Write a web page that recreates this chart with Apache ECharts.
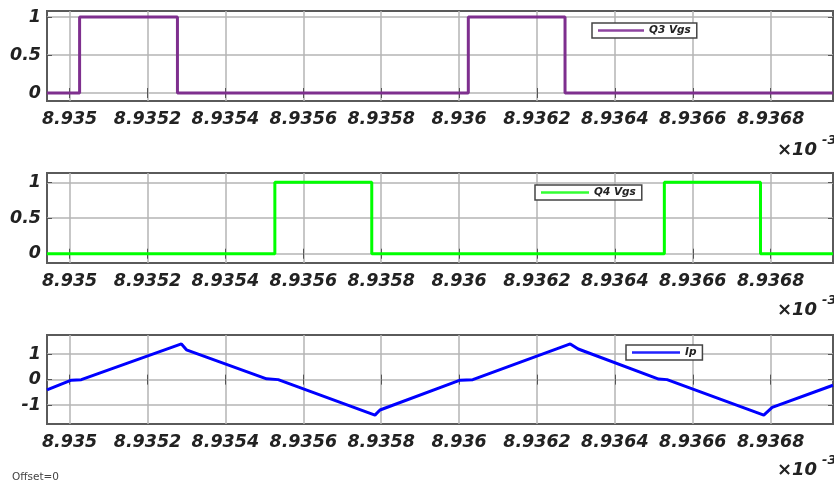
<!DOCTYPE html>
<html><head><meta charset="utf-8">
<script src="https://cdn.jsdelivr.net/npm/echarts@6/dist/echarts.min.js"></script>
<style>html,body{margin:0;padding:0;background:#fff}#c{width:834px;height:486px}</style>
</head><body><div id="c"></div>
<script>
// ---- data (time in units of 1e-3 s) ----
const xTicks = [8.935, 8.9352, 8.9354, 8.9356, 8.9358, 8.936, 8.9362, 8.9364, 8.9366, 8.9368];
const xMin = 8.934942, xMax = 8.93696;

const q3Time  = [8.934942, 8.9350257, 8.9350257, 8.9352769, 8.9352769, 8.9360237, 8.9360237, 8.936272, 8.936272, 8.93696];
const q3Value = [0, 0, 1, 1, 0, 0, 1, 1, 0, 0];

const q4Time  = [8.934942, 8.935527, 8.935527, 8.9357758, 8.9357758, 8.936527, 8.936527, 8.9367738, 8.9367738, 8.93696];
const q4Value = [0, 0, 1, 1, 0, 0, 1, 1, 0, 0];

const ipTime  = [8.934942, 8.9350044, 8.9350301, 8.9352871, 8.9353, 8.9355057, 8.9355355, 8.935784, 8.9357969,
                 8.9360026, 8.9360352, 8.9362854, 8.9363059, 8.9365124, 8.936534, 8.9367823, 8.9368039, 8.93696];
const ipValue = [-0.40, -0.02, 0.0, 1.40, 1.17, 0.03, 0.0, -1.39, -1.19,
                 -0.02, 0.0, 1.40, 1.20, 0.02, 0.0, -1.39, -1.09, -0.22];

const yTicks1 = [0, 0.5, 1];
const yTicks2 = [0, 0.5, 1];
const yTicks3 = [-1, 0, 1];
const yRanges = [[-0.105, 1.08], [-0.13, 1.13], [-1.74, 1.75]];

const zip = (a, b) => a.map((t, i) => [t, b[i]]);

// ---- styles ----
const FONT = 'DejaVu Sans';
const labelStyle = {fontFamily: FONT, fontWeight: 'bold', fontStyle: 'italic', fontSize: 17.5, color: '#222'};
const gridTops = [11, 173, 335];
const gridHeights = [90, 90, 89];
const yTickSets = [yTicks1, yTicks2, yTicks3];

const grids = gridTops.map((t, i) => ({
  left: 47, right: 1, top: t, height: gridHeights[i],
  show: true, borderColor: '#5a5a5a', borderWidth: 2, backgroundColor: '#fff'
}));

const xAxes = [];
const yAxes = [];
for (let i = 0; i < 3; i++) {
  xAxes.push({
    type: 'value', gridIndex: i, min: xMin, max: xMax, position: 'bottom',
    axisLine: {show: false},
    axisTick: {show: true, inside: true, length: 5, customValues: xTicks, lineStyle: {color: '#555', width: 1}},
    axisLabel: Object.assign({customValues: xTicks, margin: 9,
      formatter: v => String(Number(v.toFixed(4)))}, labelStyle),
    splitLine: {show: true, lineStyle: {color: '#b4b4b4', width: 1.5}}
  });
  xAxes.push({
    type: 'value', gridIndex: i, min: xMin, max: xMax, position: 'top',
    axisLine: {show: false},
    axisTick: {show: true, inside: true, length: 5, customValues: xTicks, lineStyle: {color: '#555', width: 1}},
    axisLabel: {show: false}, splitLine: {show: false}
  });
  yAxes.push({
    type: 'value', gridIndex: i, min: yRanges[i][0], max: yRanges[i][1], position: 'left',
    axisLine: {show: false},
    axisTick: {show: true, inside: true, length: 5, customValues: yTickSets[i], lineStyle: {color: '#555', width: 1}},
    axisLabel: Object.assign({customValues: yTickSets[i], margin: 6, formatter: v => String(v)}, labelStyle),
    splitLine: {show: true, lineStyle: {color: '#b4b4b4', width: 1.5}}
  });
  yAxes.push({
    type: 'value', gridIndex: i, min: yRanges[i][0], max: yRanges[i][1], position: 'right',
    axisLine: {show: false},
    axisTick: {show: true, inside: true, length: 5, customValues: yTickSets[i], lineStyle: {color: '#555', width: 1}},
    axisLabel: {show: false}, splitLine: {show: false}
  });
}

const legendBase = {
  orient: 'horizontal', icon: 'rect', itemHeight: 2.5, itemGap: 0, padding: [2, 6, 2, 6],
  borderColor: '#444', borderWidth: 1.5, backgroundColor: '#fff', borderRadius: 0,
  selectedMode: false,
  textStyle: {fontFamily: FONT, fontWeight: 'bold', fontStyle: 'italic', fontSize: 10.5, color: '#222', padding: [0, 0, 0, 0]}
};
const legends = [
  Object.assign({}, legendBase, {data: ['Q3 Vgs'], left: 592, top: 23, itemWidth: 46}),
  Object.assign({}, legendBase, {data: ['Q4 Vgs'], left: 535, top: 185, itemWidth: 48}),
  Object.assign({}, legendBase, {data: ['Ip'], left: 626, top: 345, itemWidth: 48})
];

const series = [
  {name: 'Q3 Vgs', type: 'line', xAxisIndex: 0, yAxisIndex: 0, data: zip(q3Time, q3Value),
   symbol: 'none', lineStyle: {color: '#7E2F8E', width: 3}, itemStyle: {color: '#8E44A0'}, animation: false},
  {name: 'Q4 Vgs', type: 'line', xAxisIndex: 2, yAxisIndex: 2, data: zip(q4Time, q4Value),
   symbol: 'none', lineStyle: {color: '#00FF00', width: 3}, itemStyle: {color: '#33FF33'}, animation: false},
  {name: 'Ip', type: 'line', xAxisIndex: 4, yAxisIndex: 4, data: zip(ipTime, ipValue),
   symbol: 'none', lineStyle: {color: '#0000FF', width: 3}, itemStyle: {color: '#2222FF'}, animation: false}
];

const multText = (y) => ([
  {type: 'text', left: 777, top: y - 9, style: {text: '×10', fontFamily: FONT, fontWeight: 'bold', fontStyle: 'italic', fontSize: 18, fill: '#222'}},
  {type: 'text', left: 822, top: y - 16, style: {text: '-3', fontFamily: FONT, fontWeight: 'bold', fontStyle: 'italic', fontSize: 13, fill: '#222'}}
]);

const graphics = [].concat(multText(150), multText(310), multText(470), [
  {type: 'text', left: 12, top: 472, style: {text: 'Offset=0', fontFamily: FONT, fontSize: 10.5, fill: '#444'}}
]);

const chart = echarts.init(document.getElementById('c'), null, {renderer: 'canvas'});
chart.setOption({
  backgroundColor: '#fff',
  animation: false,
  grid: grids,
  xAxis: xAxes,
  yAxis: yAxes,
  legend: legends,
  series: series,
  graphic: graphics
});
</script></body></html>
